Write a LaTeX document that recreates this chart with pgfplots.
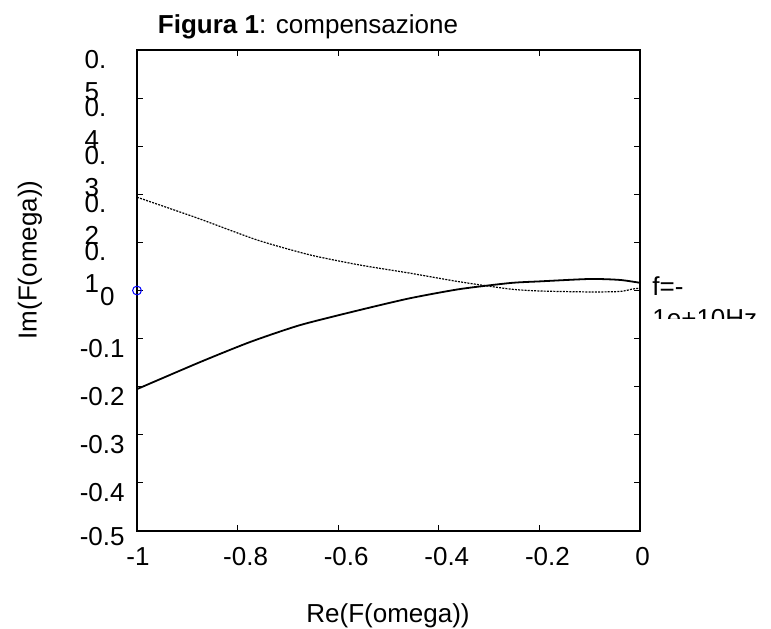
\documentclass[border=0pt]{standalone}
\usepackage{fontspec}
\setmainfont{Liberation Sans}
\usepackage{pgfplots}
\pgfplotsset{compat=1.18}
\begin{document}
\begin{tikzpicture}[font=\fontsize{13}{16}\selectfont]
\begin{axis}[
  width=251.5pt, height=240.5pt, scale only axis,
  at={(0,0)}, anchor=south west,
  xmin=-1, xmax=0, ymin=-0.5, ymax=0.5,
  clip=false,
  xtick={-1,-0.8,-0.6,-0.4,-0.2,0},
  xticklabels={{\hspace*{1pt}-1},{\hspace*{8pt}-0.8},{\hspace*{8pt}-0.6},{\hspace*{8pt}-0.4},{\hspace*{8pt}-0.2},{\hspace*{2.5pt}0}},
  ytick={-0.5,-0.4,-0.3,-0.2,-0.1,0,0.1,0.2,0.3,0.4,0.5},
  yticklabels={{\raisebox{2pt}[\height]{-0.5}},-0.4,-0.3,-0.2,-0.1,{\raisebox{2pt}[\height]{0}\hspace*{5pt}},
    {\parbox[t]{20pt}{0.\\1}},{\parbox[t]{20pt}{0.\\2}},{\parbox[t]{20pt}{0.\\3}},
    {\parbox[t]{20pt}{0.\\4}},{\parbox[t]{20pt}{0.\\5}}},
  tick align=inside,
  major tick length=3pt,
  axis line style={line width=1pt},
  every tick/.style={black, line width=0.5pt},
  xticklabel style={anchor=north, inner sep=0pt, yshift=-8pt},
  yticklabel style={anchor=north east, inner sep=0pt, xshift=-6pt},
  title={\textbf{Figura 1}: compensazione},
  every axis title shift=0pt,
  title style={at={(axis description cs:0.34,1.0333)}, anchor=base, inner sep=0pt},
  xlabel={Re(F(omega))},
  xlabel style={at={(axis description cs:0.499,-0.1892)}, anchor=base, inner sep=0pt},
  ylabel={Im(F(omega))},
  ylabel style={at={(axis description cs:-0.2127,0.5634)}, anchor=center, inner sep=0pt},
]
% solid branch
\addplot[black, line width=0.9pt, smooth, tension=0.4] coordinates {
  (-1,-0.205) (-0.875,-0.149) (-0.775,-0.107) (-0.676,-0.072)
  (-0.557,-0.0405) (-0.457,-0.016) (-0.358,0.003) (-0.258,0.0156)
  (-0.199,0.019) (-0.099,0.024) (-0.040,0.022) (0,0.016)
};
% dotted branch
\addplot[black, line width=0.6pt, dash pattern=on 1pt off 0.6pt, smooth, tension=0.4] coordinates {
  (-1,0.194) (-0.881,0.151) (-0.761,0.105) (-0.656,0.074)
  (-0.557,0.053) (-0.457,0.036) (-0.358,0.018) (-0.258,0.003)
  (-0.199,-0.001) (-0.099,-0.003) (-0.040,-0.002) (-0.015,0.003) (0,0.005)
};
% starting point
\addplot[only marks, mark=o, mark size=2.2pt, blue, mark options={line width=0.5pt}] coordinates {(-1,0)};
\coordinate (lab) at (axis cs:0,-0.0094);
\coordinate (clipbot) at (axis cs:0,-0.0572);
\coordinate (sw) at (rel axis cs:0,0);
\end{axis}
\begin{scope}
  \clip (clipbot) rectangle ++(120pt,80pt);
  \node[anchor=base west, inner sep=0pt] at ([xshift=6pt]lab) {\parbox[t]{70pt}{f=-\\1e+10Hz}};
\end{scope}
\pgfresetboundingbox
\path ([shift={(-68.5pt,-48.5pt)}]sw) rectangle ([shift={(317pt,265.5pt)}]sw);
\end{tikzpicture}
\end{document}
